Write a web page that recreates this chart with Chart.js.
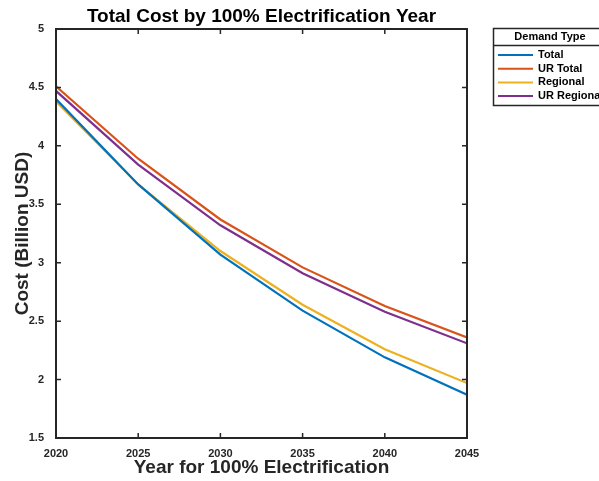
<!DOCTYPE html>
<html>
<head>
<meta charset="utf-8">
<script src="https://cdn.jsdelivr.net/npm/chart.js@4/dist/chart.umd.min.js"></script>
<style>
  html, body { margin: 0; padding: 0; background: #fff; }
  #wrap { width: 599px; height: 481px; position: relative; }
</style>
</head>
<body>
<div id="wrap"><canvas id="cost-chart" width="599" height="481"></canvas></div>
<script>
// Total cost by 100% electrification year, four demand types
const years = [2020, 2025, 2030, 2035, 2040, 2045];
const total = [4.40, 3.67, 3.07, 2.59, 2.19, 1.87];
const urTotal = [4.51, 3.89, 3.37, 2.96, 2.63, 2.36];
const regional = [4.38, 3.67, 3.10, 2.64, 2.26, 1.97];
const urRegional = [4.47, 3.84, 3.32, 2.91, 2.58, 2.31];
const seriesNames = ['Total', 'UR Total', 'Regional', 'UR Regional'];
const seriesColors = ['#0072BD', '#D95319', '#EDB120', '#7E2F8E'];
const yTicks = [1.5, 2, 2.5, 3, 3.5, 4, 4.5, 5];
const xTicks = [2020, 2025, 2030, 2035, 2040, 2045];

const FONT = '"Liberation Sans", Arial, Helvetica, sans-serif';
const AXIS_COLOR = '#262626';

const allSeries = [total, urTotal, regional, urRegional];

// box, inward ticks, titles and legend drawn MATLAB-style
const matlabFrame = {
  id: 'matlabFrame',
  afterDraw(chart) {
    const ctx = chart.ctx;
    const { left, right, top, bottom } = chart.chartArea;
    const xs = chart.scales.x, ys = chart.scales.y;
    ctx.save();
    ctx.strokeStyle = AXIS_COLOR;
    ctx.lineWidth = 2;
    ctx.strokeRect(left, top, right - left, bottom - top);
    ctx.lineWidth = 1.5;
    const tl = 5;
    ctx.beginPath();
    xTicks.forEach(v => {
      const px = xs.getPixelForValue(v);
      ctx.moveTo(px, bottom); ctx.lineTo(px, bottom - tl);
      ctx.moveTo(px, top); ctx.lineTo(px, top + tl);
    });
    yTicks.forEach(v => {
      const py = ys.getPixelForValue(v);
      ctx.moveTo(left, py); ctx.lineTo(left + tl, py);
      ctx.moveTo(right, py); ctx.lineTo(right - tl, py);
    });
    ctx.stroke();

    // titles
    ctx.fillStyle = '#000';
    ctx.textAlign = 'center';
    ctx.textBaseline = 'middle';
    ctx.font = 'bold 19px ' + FONT;
    ctx.fillText('Total Cost by 100% Electrification Year', (left + right) / 2, 17);
    ctx.fillStyle = AXIS_COLOR;
    ctx.font = 'bold 19px ' + FONT;
    ctx.fillText('Year for 100% Electrification', (left + right) / 2, 468);
    ctx.save();
    ctx.translate(23, (top + bottom) / 2);
    ctx.rotate(-Math.PI / 2);
    ctx.fillText('Cost (Billion USD)', 0, 0);
    ctx.restore();

    // legend
    const lx = 493, ly = 28, lw = 120, lh = 77;
    ctx.fillStyle = '#fff';
    ctx.fillRect(lx, ly, lw, lh);
    ctx.strokeStyle = AXIS_COLOR;
    ctx.lineWidth = 1.5;
    ctx.strokeRect(lx + 0.5, ly + 0.5, lw, lh);
    ctx.beginPath();
    ctx.moveTo(lx, ly + 17.5); ctx.lineTo(lx + lw, ly + 17.5);
    ctx.stroke();
    ctx.fillStyle = '#000';
    ctx.font = 'bold 11px ' + FONT;
    ctx.textAlign = 'center';
    ctx.fillText('Demand Type', 550, ly + 9);
    ctx.font = 'bold 11px ' + FONT;
    ctx.textAlign = 'left';
    chart.data.datasets.forEach((ds, i) => {
      const yy = 55 + i * 13.7;
      ctx.strokeStyle = ds.borderColor;
      ctx.lineWidth = 2;
      ctx.beginPath();
      ctx.moveTo(498, yy); ctx.lineTo(533, yy);
      ctx.stroke();
      ctx.fillStyle = '#000';
      ctx.fillText(ds.label, 538, yy);
    });
    ctx.restore();
  }
};

new Chart(document.getElementById('cost-chart'), {
  type: 'line',
  data: {
    datasets: allSeries.map((vals, i) => ({
      label: seriesNames[i],
      data: years.map((yr, j) => ({ x: yr, y: vals[j] })),
      borderColor: seriesColors[i],
      backgroundColor: seriesColors[i],
      borderWidth: 2.2,
      pointRadius: 0,
      tension: 0,
      fill: false
    }))
  },
  options: {
    responsive: false,
    animation: false,
    layout: { padding: { top: 29, right: 132, left: 0, bottom: 0 } },
    plugins: {
      legend: { display: false },
      title: { display: false },
      tooltip: { enabled: false }
    },
    scales: {
      x: {
        type: 'linear',
        min: 2020,
        max: 2045,
        afterBuildTicks: s => { s.ticks = xTicks.map(v => ({ value: v })); },
        afterFit: s => { s.height = 43; },
        grid: { display: false },
        border: { display: false },
        ticks: {
          color: AXIS_COLOR,
          font: { family: FONT, size: 11, weight: 'bold' },
          padding: 1,
          maxRotation: 0,
          callback: v => String(v)
        }
      },
      y: {
        type: 'linear',
        min: 1.5,
        max: 5,
        afterBuildTicks: s => { s.ticks = yTicks.map(v => ({ value: v })); },
        afterFit: s => { s.width = 56; },
        grid: { display: false },
        border: { display: false },
        ticks: {
          color: AXIS_COLOR,
          font: { family: FONT, size: 11, weight: 'bold' },
          padding: 4,
          callback: v => String(v)
        }
      }
    }
  },
  plugins: [matlabFrame]
});
</script>
</body>
</html>
